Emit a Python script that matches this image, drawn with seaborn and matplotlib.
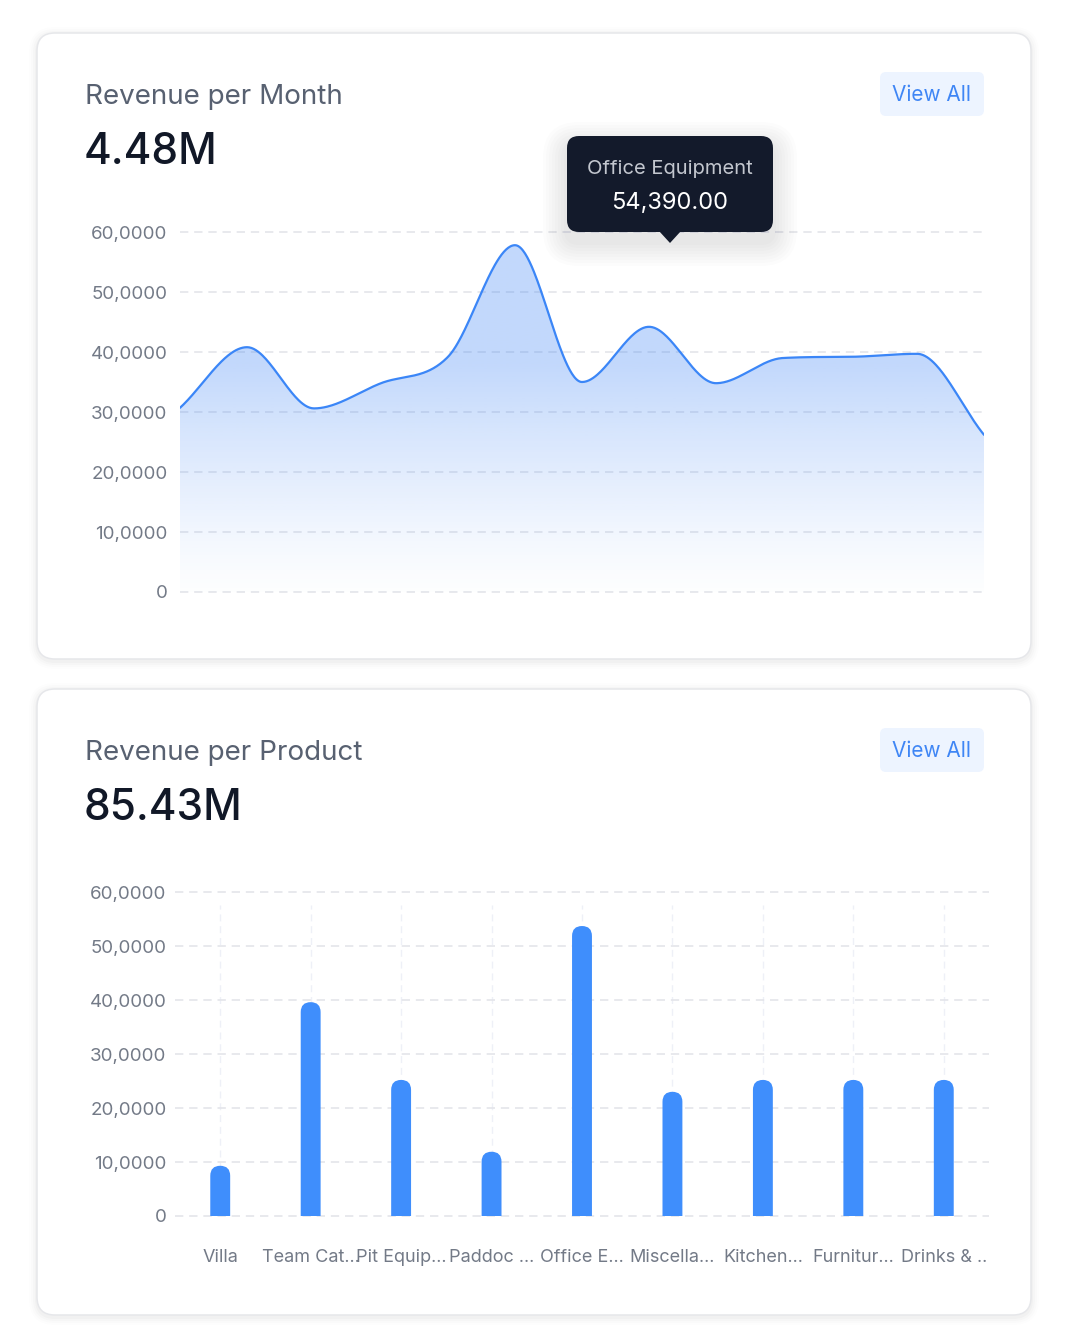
import numpy as np
import matplotlib
matplotlib.use("Agg")
import matplotlib.pyplot as plt
import seaborn as sns
from matplotlib.patches import FancyBboxPatch, Polygon, Rectangle

# ---------------- data ----------------
month_idx = list(range(13))
month_revenue = [30700, 40800, 30600, 34800, 39200, 57800, 35000,
                 44200, 34800, 39000, 39200, 39700, 26200]

products = ["Villa", "Team Cat...", "Pit Equip...", "Paddoc ...", "Office E...",
            "Miscella...", "Kitchen...", "Furnitur...", "Drinks & .."]
product_revenue = [9300, 39600, 25200, 11900, 53700, 23000, 25200, 25200, 25200]

y_ticks = [0, 10000, 20000, 30000, 40000, 50000, 60000]
y_tick_labels = ["0", "10,0000", "20,0000", "30,0000", "40,0000", "50,0000", "60,0000"]

tooltip_title = "Office Equipment"
tooltip_value = "54,390.00"

BLUE = "#3f8efc"
LINE_BLUE = "#3b86f7"
GRID = "#e4e5ea"
TICK = "#737a87"

sns.set_theme(style="white")
plt.rcParams['font.family'] = ['Inter', 'DejaVu Sans']

W, H = 1068, 1344
fig = plt.figure(figsize=(W / 100, H / 100), dpi=100)
fig.patch.set_facecolor("white")


def px_axes(left, top, right, bottom, **kw):
    return fig.add_axes([left / W, 1 - bottom / H, (right - left) / W, (bottom - top) / H], **kw)


# background layer in pixel coordinates
bg = fig.add_axes([0, 0, 1, 1], zorder=0)
bg.set_xlim(0, W)
bg.set_ylim(H, 0)
bg.axis("off")


def card(top):
    for i, a in enumerate([0.018, 0.014, 0.010, 0.006]):
        g = 2 + i * 2
        bg.add_patch(FancyBboxPatch((37 - g, top - g + 2), 994 + 2 * g, 626 + 2 * g,
                                    boxstyle=f"round,pad=0,rounding_size={18 + g}",
                                    fc="black", ec="none", alpha=a))
    bg.add_patch(FancyBboxPatch((37, top), 994, 626, boxstyle="round,pad=0,rounding_size=18",
                                fc="white", ec="#e6e7ea", lw=1.1))


def header(off, title, total):
    bg.text(85, 104 + off, title, fontsize=20, color="#586171", va="baseline", ha="left")
    bg.text(84, 164 + off, total, fontsize=30.5, color="#111827", va="baseline", ha="left",
            fontweight="medium")
    bg.add_patch(FancyBboxPatch((880, 72 + off), 104, 44, boxstyle="round,pad=0,rounding_size=6",
                                fc="#edf4ff", ec="none"))
    bg.text(932, 95 + off, "View All", fontsize=15, color="#3f86f5", va="center", ha="center")


card(33)
card(689)
header(0, "Revenue per Month", "4.48M")
header(656, "Revenue per Product", "85.43M")


def style_axes(ax, pad):
    ax.set_facecolor("none")
    for s in ax.spines.values():
        s.set_visible(False)
    ax.set_ylim(0, 60000)
    ax.set_yticks(y_ticks)
    ax.set_yticklabels(y_tick_labels)
    ax.tick_params(axis="y", length=0, pad=pad, labelsize=13.5, labelcolor=TICK)
    ax.yaxis.grid(True, color=GRID, linestyle=(0, (5, 3.5)), linewidth=1.2)
    ax.set_axisbelow(True)
    for gl in ax.get_ygridlines():
        gl.set_clip_on(False)
    ax.set_xlabel("")
    ax.set_ylabel("")


# ---------------- top: smooth area chart ----------------
def monotone_curve(x, y, n=60):
    x = np.asarray(x, float)
    y = np.asarray(y, float)
    h = np.diff(x)
    d = np.diff(y) / h
    m = np.zeros_like(y)
    m[0], m[-1] = d[0], d[-1]
    for i in range(1, len(y) - 1):
        m[i] = 0 if d[i - 1] * d[i] <= 0 else (d[i - 1] + d[i]) / 2
    for i in range(len(d)):
        if d[i] == 0:
            m[i] = m[i + 1] = 0
            continue
        a, b = m[i] / d[i], m[i + 1] / d[i]
        s = a * a + b * b
        if s > 9:
            t = 3 / np.sqrt(s)
            m[i], m[i + 1] = t * a * d[i], t * b * d[i]
    xs, ys = [], []
    for i in range(len(d)):
        t = np.linspace(0, 1, n, endpoint=False)
        h00 = 2 * t**3 - 3 * t**2 + 1
        h10 = t**3 - 2 * t**2 + t
        h01 = -2 * t**3 + 3 * t**2
        h11 = t**3 - t**2
        xs.append(x[i] + t * h[i])
        ys.append(h00 * y[i] + h10 * h[i] * m[i] + h01 * y[i + 1] + h11 * h[i] * m[i + 1])
    xs.append([x[-1]])
    ys.append([y[-1]])
    return np.concatenate(xs), np.concatenate(ys)


ax1 = px_axes(180, 232, 984, 592, zorder=2)
style_axes(ax1, pad=9)
ax1.set_xlim(month_idx[0], month_idx[-1])
ax1.set_xticks([])

cx, cy = monotone_curve(month_idx, month_revenue)

# gradient fill under the curve
v = np.linspace(60000, 0, 400)
a = np.clip(v / 38000, 0, 1) ** 1.2
img = np.zeros((len(v), 1, 4))
img[:, 0, 0] = 59 / 255
img[:, 0, 1] = 130 / 255
img[:, 0, 2] = 246 / 255
img[:, 0, 3] = 0.30 * a + 0.01
poly = Polygon(np.column_stack([np.r_[cx, cx[-1], cx[0]], np.r_[cy, 0, 0]]),
               closed=True, fc="none", ec="none", transform=ax1.transData)
ax1.add_patch(poly)
im = ax1.imshow(img, extent=(month_idx[0], month_idx[-1], 0, 60000), aspect="auto",
                origin="upper", zorder=1, interpolation="bilinear")
im.set_clip_path(poly)

sns.lineplot(x=cx, y=cy, ax=ax1, color=LINE_BLUE, linewidth=1.6, sort=False,
             estimator=None, zorder=3)
ax1.set_xlim(month_idx[0], month_idx[-1])
ax1.set_ylim(0, 60000)

# ---------------- bottom: bar chart ----------------
ax2 = px_axes(175, 892, 989, 1216, zorder=2)
sns.barplot(x=products, y=product_revenue, color=BLUE, width=0.22, saturation=1, ax=ax2)
style_axes(ax2, pad=6)
ax2.set_xlim(-0.5, len(products) - 0.5)
ax2.tick_params(axis="x", length=0, pad=24, labelsize=13, labelcolor=TICK)
for i in range(len(products)):
    ax2.axvline(i, ymin=0, ymax=0.96, color="#eef0f7", linestyle=(0, (5, 3.5)),
                linewidth=1.0, zorder=0)

sx = ax2.transData.transform((1, 0))[0] - ax2.transData.transform((0, 0))[0]
sy = ax2.transData.transform((0, 1))[1] - ax2.transData.transform((0, 0))[1]
clip = Rectangle((-1, 0), len(products) + 2, 1e6, transform=ax2.transData)
for p in list(ax2.patches):
    x0, w, hgt = p.get_x(), p.get_width(), p.get_height()
    p.remove()
    r = w / 2
    ry = r * sx / sy
    bar = FancyBboxPatch((x0, -ry), w, hgt + ry, boxstyle=f"round,pad=0,rounding_size={r}",
                         mutation_aspect=sx / sy, fc=BLUE, ec="none", zorder=3)
    ax2.add_patch(bar)
    bar.set_clip_path(clip)

# ---------------- tooltip ----------------
fg = fig.add_axes([0, 0, 1, 1], zorder=10)
fg.set_xlim(0, W)
fg.set_ylim(H, 0)
fg.axis("off")
for i in range(8):
    g = 3 + i * 3
    fg.add_patch(FancyBboxPatch((567 - g, 136 - g + 10), 206 + 2 * g, 96 + 2 * g,
                                boxstyle=f"round,pad=0,rounding_size={12 + g}",
                                fc="#1f2937", ec="none", alpha=0.012))
fg.add_patch(FancyBboxPatch((567, 136), 206, 96, boxstyle="round,pad=0,rounding_size=12",
                            fc="#131a2b", ec="none"))
fg.add_patch(Polygon([(659, 231), (681, 231), (670, 243)], closed=True, fc="#131a2b", ec="none"))
fg.text(670, 169, tooltip_title, fontsize=14.5, color="#c3c7cf", ha="center", va="center")
fg.text(670, 203, tooltip_value, fontsize=17, color="white", ha="center", va="center")

fig.savefig("out.png", dpi=100, facecolor="white")
